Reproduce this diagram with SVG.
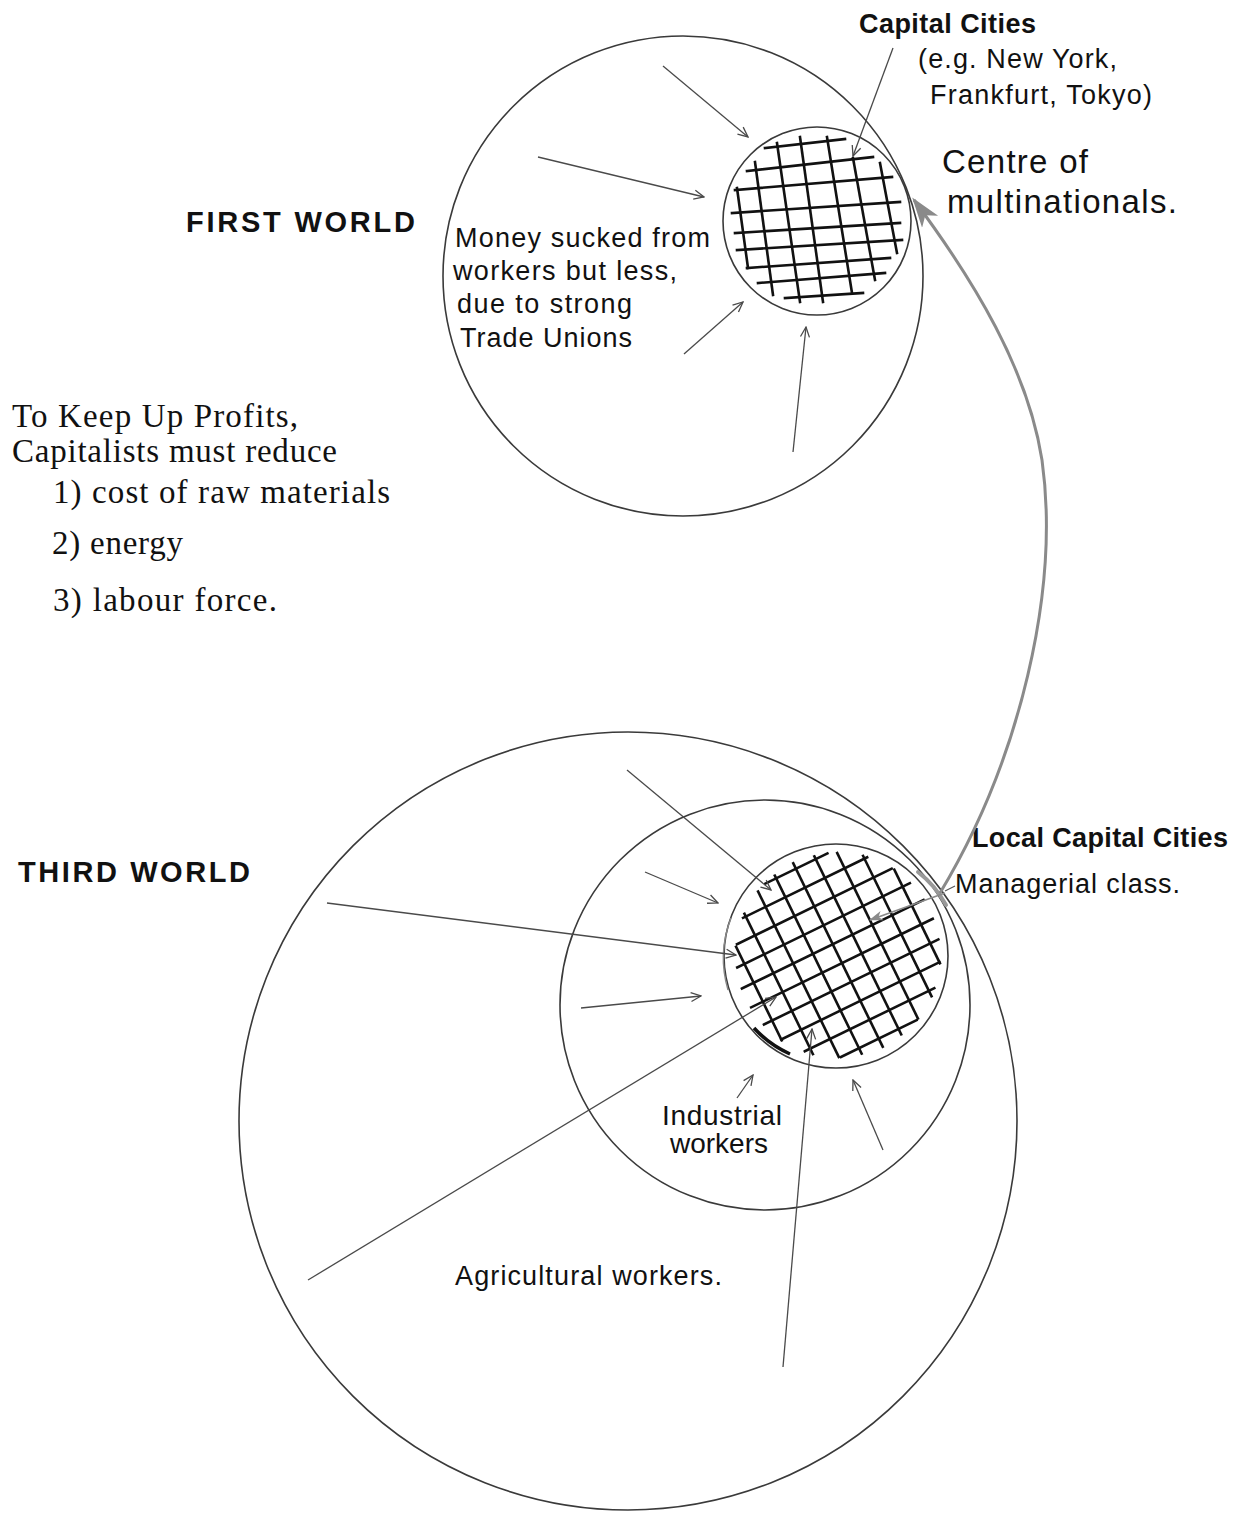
<svg xmlns="http://www.w3.org/2000/svg" width="1235" height="1519" viewBox="0 0 1235 1519">
<style>
.circ{fill:none;stroke:#3a3a3a;stroke-width:1.6}
.grid line{stroke:#111;stroke-width:2.6;stroke-linecap:square}
.arr{fill:none;stroke:#4a4a4a;stroke-width:1.3;marker-end:url(#ah)}
.sans{font-family:"Liberation Sans",Arial,Helvetica,sans-serif;fill:#111}
.b{font-weight:bold}
.serif{font-family:"Liberation Serif","Times New Roman",serif;fill:#111}
</style>
<defs>
<marker id="ah" viewBox="0 0 12 12" refX="11" refY="6" markerWidth="12" markerHeight="12" markerUnits="userSpaceOnUse" orient="auto">
<path d="M1,1.5 L11,6 L1,10.5" fill="none" stroke="#4a4a4a" stroke-width="1.3"/>
</marker>
<marker id="gah" viewBox="0 0 30 24" refX="27" refY="12" markerWidth="30" markerHeight="24" markerUnits="userSpaceOnUse" orient="auto">
<path d="M0,2 L30,12 L0,22 L8,12 Z" fill="#8a8a8a"/>
</marker>
<marker id="gah2" viewBox="0 0 14 12" refX="13" refY="6" markerWidth="14" markerHeight="12" markerUnits="userSpaceOnUse" orient="auto">
<path d="M0,1 L14,6 L0,11 L4,6 Z" fill="#8a8a8a"/>
</marker>
</defs>
<rect width="1235" height="1519" fill="#fff"/>

<g id="first-world">
<circle class="circ" cx="683" cy="276" r="240"/>
<text class="sans b" x="186" y="232" font-size="29" textLength="229" lengthAdjust="spacing">FIRST WORLD</text>
<text class="sans" font-size="27">
<tspan x="455" y="247" textLength="255" lengthAdjust="spacing">Money sucked from</tspan>
<tspan x="453" y="280" textLength="224" lengthAdjust="spacing">workers but less,</tspan>
<tspan x="457" y="313" textLength="175" lengthAdjust="spacing">due to strong</tspan>
<tspan x="460" y="347" textLength="172" lengthAdjust="spacing">Trade Unions</tspan>
</text>
</g>

<g id="capital-cities">
<circle class="circ" cx="817" cy="221" r="94"/>
<g class="grid">
<line x1="765" y1="148" x2="845" y2="139"/>
<line x1="747" y1="171" x2="873" y2="157"/>
<line x1="735" y1="190" x2="892" y2="177"/>
<line x1="732" y1="213" x2="900" y2="202"/>
<line x1="735" y1="233" x2="900" y2="223"/>
<line x1="737" y1="250" x2="902" y2="240"/>
<line x1="747" y1="268" x2="890" y2="258"/>
<line x1="758" y1="283" x2="885" y2="273"/>
<line x1="785" y1="298" x2="863" y2="293"/>
<line x1="737" y1="188" x2="748" y2="268"/>
<line x1="755" y1="162" x2="773" y2="295"/>
<line x1="777" y1="143" x2="800" y2="302"/>
<line x1="800" y1="137" x2="823" y2="302"/>
<line x1="827" y1="137" x2="852" y2="293"/>
<line x1="853" y1="158" x2="875" y2="280"/>
<line x1="880" y1="163" x2="897" y2="253"/>
</g>
<text class="sans b" x="859" y="33" font-size="27" textLength="177" lengthAdjust="spacing">Capital Cities</text>
<text class="sans" x="918" y="68" font-size="27" textLength="199" lengthAdjust="spacing">(e.g. New York,</text>
<text class="sans" x="930" y="104" font-size="27" textLength="222" lengthAdjust="spacing">Frankfurt, Tokyo)</text>
<text class="sans" x="942" y="173" font-size="33" textLength="146" lengthAdjust="spacing">Centre of</text>
<text class="sans" x="947" y="213" font-size="33" textLength="230" lengthAdjust="spacing">multinationals.</text>
</g>

<g id="profits-note">
<text class="serif" font-size="33">
<tspan x="12" y="427" textLength="286" lengthAdjust="spacing">To Keep Up Profits,</tspan>
<tspan x="12" y="462" textLength="325" lengthAdjust="spacing">Capitalists must reduce</tspan>
<tspan x="53" y="503" textLength="337" lengthAdjust="spacing">1) cost of raw materials</tspan>
<tspan x="52" y="554" textLength="131" lengthAdjust="spacing">2) energy</tspan>
<tspan x="53" y="611" textLength="224" lengthAdjust="spacing">3) labour force.</tspan>
</text>
</g>

<g id="third-world">
<circle class="circ" cx="628" cy="1121" r="389"/>
<text class="sans b" x="18" y="882" font-size="29" textLength="232" lengthAdjust="spacing">THIRD WORLD</text>
<text class="sans" x="455" y="1285" font-size="27" textLength="267" lengthAdjust="spacing">Agricultural workers.</text>
</g>

<g id="industrial-workers">
<circle class="circ" cx="765" cy="1005" r="205"/>
<text class="sans" x="662" y="1125" font-size="28" textLength="120" lengthAdjust="spacing">Industrial</text>
<text class="sans" x="670" y="1153" font-size="28" textLength="98" lengthAdjust="spacing">workers</text>
</g>

<g id="local-capital-cities">
<circle class="circ" cx="836" cy="956" r="112"/>
<path d="M728,990 A112,112 0 0 1 731,918" fill="none" stroke="#888" stroke-width="1.4"/>
<path d="M754,1028 A108,108 0 0 0 790,1054" fill="none" stroke="#111" stroke-width="3.5"/>
<g class="grid" transform="translate(838,955) rotate(-26)">
<line x1="-34" y1="-96" x2="35" y2="-96"/>
<line x1="-69" y1="-75" x2="69" y2="-75"/>
<line x1="-86" y1="-54" x2="86" y2="-54"/>
<line x1="-96" y1="-33" x2="96" y2="-33"/>
<line x1="-101" y1="-12" x2="101" y2="-12"/>
<line x1="-101" y1="9" x2="101" y2="9"/>
<line x1="-97" y1="30" x2="97" y2="30"/>
<line x1="-88" y1="51" x2="88" y2="51"/>
<line x1="-72" y1="72" x2="72" y2="72"/>
<line x1="-42" y1="93" x2="42" y2="93"/>
<line x1="-88" y1="-52" x2="-88" y2="52"/>
<line x1="-66" y1="-78" x2="-66" y2="78"/>
<line x1="-44" y1="-92" x2="-44" y2="92"/>
<line x1="-22" y1="-99" x2="-22" y2="99"/>
<line x1="0" y1="-102" x2="0" y2="102"/>
<line x1="22" y1="-99" x2="22" y2="99"/>
<line x1="44" y1="-92" x2="44" y2="92"/>
<line x1="66" y1="-78" x2="66" y2="78"/>
<line x1="88" y1="-52" x2="88" y2="52"/>
</g>
<path d="M918,872 Q935,885 946,905" fill="none" stroke="#999" stroke-width="4" stroke-linecap="round"/>
<text class="sans b" x="972" y="847" font-size="27" textLength="256" lengthAdjust="spacing">Local Capital Cities</text>
<text class="sans" x="955" y="893" font-size="27" textLength="225" lengthAdjust="spacing">Managerial class.</text>
</g>

<g id="connectors">
<line class="arr" x1="663" y1="66" x2="748" y2="137"/>
<line class="arr" x1="538" y1="157" x2="704" y2="197"/>
<line class="arr" x1="684" y1="354" x2="743" y2="302"/>
<line class="arr" x1="793" y1="452" x2="806" y2="327"/>
<line class="arr" x1="893" y1="48" x2="853" y2="156"/>
<line class="arr" x1="627" y1="770" x2="771" y2="890"/>
<line class="arr" x1="645" y1="872" x2="718" y2="903"/>
<line class="arr" x1="327" y1="903" x2="736" y2="955"/>
<line class="arr" x1="581" y1="1008" x2="701" y2="996"/>
<line class="arr" x1="308" y1="1280" x2="776" y2="997"/>
<line class="arr" x1="737" y1="1098" x2="753" y2="1075"/>
<line class="arr" x1="783" y1="1367" x2="812" y2="1029"/>
<line class="arr" x1="883" y1="1150" x2="853" y2="1080"/>
<line x1="955" y1="886" x2="945" y2="891" stroke="#555" stroke-width="1.2"/>
<line x1="945" y1="893" x2="870" y2="920" stroke="#8a8a8a" stroke-width="1.8" marker-end="url(#gah2)"/>
<path d="M940,893 C1020,760 1060,590 1042,460 C1028,370 975,282 914,200" fill="none" stroke="#8a8a8a" stroke-width="3" marker-end="url(#gah)"/>
</g>
</svg>
